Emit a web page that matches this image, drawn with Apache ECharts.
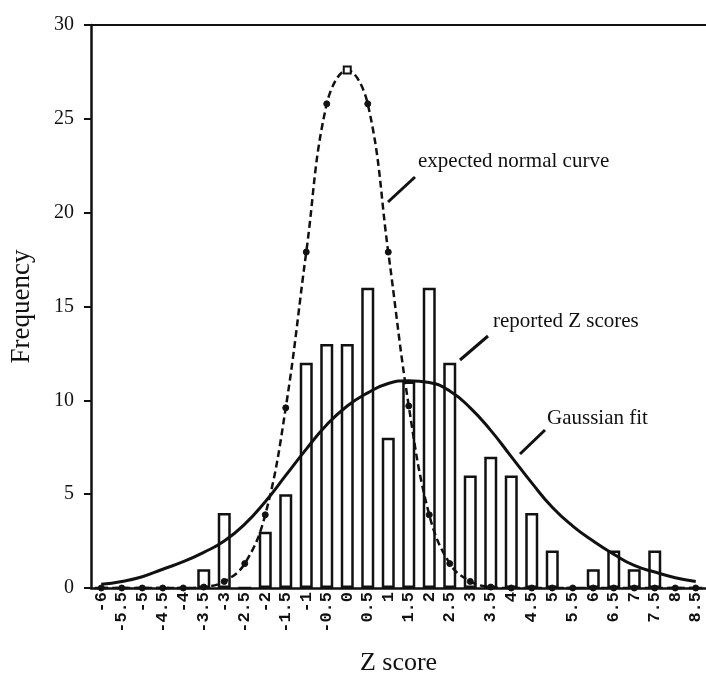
<!DOCTYPE html>
<html>
<head>
<meta charset="utf-8">
<script src="https://cdn.jsdelivr.net/npm/echarts@6/dist/echarts.min.js"></script>
<style>
  html, body { margin: 0; padding: 0; background: #fff; }
  #main { width: 706px; height: 681px; }
</style>
</head>
<body>
<div id="main"></div>
<script>
// Z score bins (tick labels)
var zLabels = ["-6", "-5.5", "-5", "-4.5", "-4", "-3.5", "-3", "-2.5", "-2", "-1.5",
  "-1", "-0.5", "0", "0.5", "1", "1.5", "2", "2.5", "3", "3.5",
  "4", "4.5", "5", "5.5", "6", "6.5", "7", "7.5", "8", "8.5"];

// reported Z scores (bars)
var reported = [0, 0, 0, 0, 0, 1, 4, 0, 3, 5,
  12, 13, 13, 16, 8, 11, 16, 12, 6, 7,
  6, 4, 2, 0, 1, 2, 1, 2, 0, 0];

// expected normal curve (dashed)
var expected = [0, 0, 0, 0, 0, 0.05, 0.35, 1.3, 3.9, 9.6,
  17.9, 25.8, 27.6, 25.8, 17.9, 9.7, 3.9, 1.3, 0.35, 0.05,
  0, 0, 0, 0, 0, 0, 0, 0, 0, 0];

// gaussian fit (solid)
var gaussFit = [0.2, 0.35, 0.6, 1.0, 1.4, 1.9, 2.5, 3.4, 4.6, 6.0,
  7.4, 8.7, 9.7, 10.4, 10.9, 11.05, 10.95, 10.5, 9.6, 8.4,
  7.0, 5.6, 4.3, 3.3, 2.5, 1.8, 1.2, 0.85, 0.55, 0.35];

var serif = "Liberation Serif";
var ink = "#111";

var chart = echarts.init(document.getElementById("main"));

// peak point drawn as an open square
var expectedData = expected.map(function (v, i) {
  if (i === 12) return { value: v, symbol: "emptyRect", symbolSize: 7 };
  return v;
});

var option = {
  animation: false,
  backgroundColor: "#fff",
  grid: { left: 91, right: -2, top: 25, bottom: 89 },
  xAxis: [
    {
      type: "category",
      data: zLabels,
      boundaryGap: true,
      axisLine: { lineStyle: { color: ink, width: 2.5 } },
      axisTick: { alignWithLabel: true, length: 5, lineStyle: { color: ink, width: 2 } },
      axisLabel: {
        interval: 0,
        rotate: 90,
        margin: 4,
        color: ink,
        fontFamily: "Liberation Mono",
        fontWeight: "bold",
        fontSize: 17
      },
      name: "Z score",
      nameLocation: "middle",
      nameGap: 75,
      nameTextStyle: { fontFamily: serif, fontSize: 26, color: ink, verticalAlign: "middle" }
    },
    {
      // top border line
      type: "category",
      data: zLabels,
      position: "top",
      axisLine: { lineStyle: { color: ink, width: 2 } },
      axisTick: { show: false },
      axisLabel: { show: false }
    }
  ],
  yAxis: {
    type: "value",
    min: 0,
    max: 30,
    interval: 5,
    splitLine: { show: false },
    axisLine: { show: true, lineStyle: { color: ink, width: 2.5 } },
    axisTick: { show: true, length: 7, lineStyle: { color: ink, width: 2 } },
    axisLabel: { margin: 17, color: ink, fontFamily: serif, fontSize: 20 },
    name: "Frequency",
    nameLocation: "middle",
    nameGap: 69,
    nameRotate: 90,
    nameTextStyle: { fontFamily: serif, fontSize: 27, color: ink, verticalAlign: "middle" }
  },
  series: [
    {
      name: "reported Z scores",
      type: "bar",
      data: reported,
      barWidth: 13,
      itemStyle: { color: "#fff", borderColor: ink, borderWidth: 2.5 },
      z: 2
    },
    {
      name: "Gaussian fit",
      type: "line",
      data: gaussFit,
      smooth: 0.5,
      showSymbol: false,
      lineStyle: { color: ink, width: 3 },
      z: 3
    },
    {
      name: "expected normal curve",
      type: "line",
      data: expectedData,
      smooth: 0.4,
      symbol: "circle",
      symbolSize: 6,
      itemStyle: { color: ink, borderColor: ink },
      lineStyle: { color: ink, width: 2.5, type: [7, 4] },
      z: 4
    }
  ],
  graphic: [
    // annotations and their leader lines
    { type: "line", shape: { x1: 388, y1: 202, x2: 415, y2: 177 }, style: { stroke: ink, lineWidth: 3 } },
    { type: "text", left: 418, top: 151, style: { text: "expected normal curve", font: "21px 'Liberation Serif'", fill: ink } },
    { type: "line", shape: { x1: 460, y1: 360, x2: 488, y2: 336 }, style: { stroke: ink, lineWidth: 3 } },
    { type: "text", left: 493, top: 311, style: { text: "reported Z scores", font: "21px 'Liberation Serif'", fill: ink } },
    { type: "line", shape: { x1: 520, y1: 454, x2: 545, y2: 430 }, style: { stroke: ink, lineWidth: 3 } },
    { type: "text", left: 547, top: 408, style: { text: "Gaussian fit", font: "21px 'Liberation Serif'", fill: ink } }
  ]
};

chart.setOption(option);
</script>
</body>
</html>
